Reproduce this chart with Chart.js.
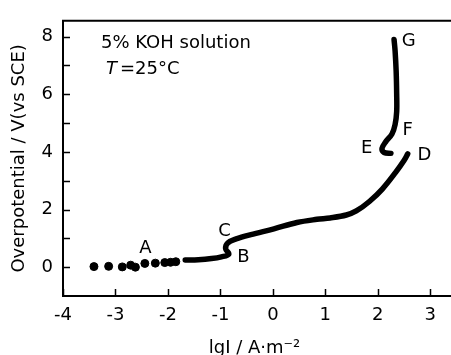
<!DOCTYPE html>
<html>
<head>
<meta charset="utf-8">
<script src="https://cdn.jsdelivr.net/npm/chart.js@4.4.1/dist/chart.umd.min.js"></script>
<style>
  html, body { margin: 0; padding: 0; background: #fff; }
  #wrap { width: 451px; height: 355px; }
</style>
</head>
<body>
<div id="wrap"><canvas id="c" width="451" height="355"></canvas></div>
<script>
// --- data ---
// scattered points at low current (lg i, overpotential)
const dotX = [-3.41, -3.13, -2.87, -2.71, -2.62, -2.44, -2.24, -2.06, -1.95, -1.85];
const dotY = [0.02, 0.03, 0.01, 0.07, 0.00, 0.13, 0.14, 0.16, 0.17, 0.19];

// continuous trace from the end of the dots through B, C to D
const traceX = [-1.67, -1.42, -1.17, -0.98, -0.84, -0.90, -0.86, -0.70, -0.42, 0.02, 0.46, 0.84, 1.09, 1.40, 1.59, 1.84, 2.09, 2.34, 2.50, 2.57];
const traceY = [0.25, 0.26, 0.30, 0.36, 0.45, 0.64, 0.84, 0.98, 1.13, 1.33, 1.55, 1.66, 1.71, 1.81, 1.95, 2.28, 2.72, 3.29, 3.70, 3.93];

// second trace E -> F -> G
const upperX = [2.25, 2.12, 2.08, 2.15, 2.27, 2.33, 2.36, 2.36, 2.35, 2.33, 2.31];
const upperY = [3.95, 3.98, 4.12, 4.35, 4.62, 4.95, 5.40, 6.00, 6.80, 7.50, 7.90];

const xTicks = [-4, -3, -2, -1, 0, 1, 2, 3];
const yTicks = [0, 1, 2, 3, 4, 5, 6, 7, 8];
const yLabels = [0, 2, 4, 6, 8];

// point letters, placed in data units
const notes = [
  { t: 'A', x: -2.43, y: 0.64 },
  { t: 'B', x: -0.56, y: 0.34 },
  { t: 'C', x: -0.92, y: 1.26 },
  { t: 'D', x: 2.89, y: 3.88 },
  { t: 'E', x: 1.79, y: 4.13 },
  { t: 'F', x: 2.57, y: 4.75 },
  { t: 'G', x: 2.59, y: 7.83 }
];

const FONT = '"DejaVu Sans", sans-serif';
const toPts = (xs, ys) => xs.map((x, i) => ({ x, y: ys[i] }));

// frame (top, left, bottom) plus inward tick marks
const framePlugin = {
  id: 'frame',
  afterDraw(chart) {
    const { ctx, chartArea: a, scales } = chart;
    ctx.save();
    ctx.strokeStyle = '#000';
    ctx.lineWidth = 2;
    ctx.beginPath();
    ctx.moveTo(chart.width, a.top);
    ctx.lineTo(a.left, a.top);
    ctx.lineTo(a.left, a.bottom);
    ctx.lineTo(chart.width, a.bottom);
    ctx.stroke();

    ctx.lineWidth = 1.5;
    ctx.beginPath();
    xTicks.forEach(v => {
      const px = Math.round(scales.x.getPixelForValue(v)) + 0.5;
      ctx.moveTo(px, a.bottom);
      ctx.lineTo(px, a.bottom - 7);
    });
    yTicks.forEach(v => {
      const py = Math.round(scales.y.getPixelForValue(v)) + 0.5;
      ctx.moveTo(a.left, py);
      ctx.lineTo(a.left + 7, py);
    });
    ctx.stroke();
    ctx.restore();
  }
};

// letters and the legend text inside the plot
const notesPlugin = {
  id: 'notes',
  afterDraw(chart) {
    const { ctx, scales } = chart;
    ctx.save();
    ctx.fillStyle = '#000';
    ctx.textAlign = 'center';
    ctx.textBaseline = 'middle';
    ctx.font = '18px ' + FONT;
    notes.forEach(n => {
      ctx.fillText(n.t, scales.x.getPixelForValue(n.x), scales.y.getPixelForValue(n.y));
    });

    ctx.textAlign = 'left';
    ctx.fillText('5% KOH solution', 101, 43);
    ctx.font = 'italic 18px ' + FONT;
    ctx.fillText('T', 106, 69);
    const w = ctx.measureText('T').width;
    ctx.font = '18px ' + FONT;
    ctx.fillText('=25°C', 106 + w + 3, 69);
    ctx.restore();
  }
};

new Chart(document.getElementById('c'), {
  type: 'scatter',
  data: {
    datasets: [
      {
        data: toPts(dotX, dotY),
        backgroundColor: '#000',
        borderColor: '#000',
        pointRadius: 4,
        showLine: false
      },
      {
        data: toPts(traceX, traceY),
        borderColor: '#000',
        borderWidth: 5.5,
        pointRadius: 0,
        showLine: true,
        tension: 0.35,
        borderCapStyle: 'round',
        borderJoinStyle: 'round'
      },
      {
        data: toPts(upperX, upperY),
        borderColor: '#000',
        borderWidth: 5.5,
        pointRadius: 0,
        showLine: true,
        tension: 0.35,
        borderCapStyle: 'round',
        borderJoinStyle: 'round'
      }
    ]
  },
  options: {
    responsive: false,
    animation: false,
    layout: { padding: { top: 16, right: 0, left: 0, bottom: 0 } },
    plugins: { legend: { display: false }, tooltip: { enabled: false } },
    scales: {
      x: {
        type: 'linear',
        min: -4,
        max: 3.3,
        afterFit: s => { s.height = 59; },
        grid: { display: false, drawTicks: false },
        border: { display: false },
        ticks: {
          stepSize: 1,
          includeBounds: false,
          padding: 9,
          color: '#000',
          font: { family: FONT, size: 18 },
          maxRotation: 0
        },
        title: {
          display: true,
          text: 'lgI / A·m⁻²',
          color: '#000',
          font: { family: FONT, size: 18, lineHeight: 1 },
          padding: { top: 0, bottom: -2 }
        }
      },
      y: {
        type: 'linear',
        min: -1,
        max: 8.55,
        afterFit: s => { s.width = 63; },
        grid: { display: false, drawTicks: false },
        border: { display: false },
        ticks: {
          stepSize: 1,
          includeBounds: false,
          padding: 10,
          color: '#000',
          font: { family: FONT, size: 18 },
          callback: v => (yLabels.includes(v) ? String(v) : '')
        },
        title: {
          display: true,
          text: 'Overpotential / V(vs SCE)',
          color: '#000',
          font: { family: FONT, size: 18, lineHeight: 1 },
          padding: { top: 10, bottom: 0 }
        }
      }
    }
  },
  plugins: [framePlugin, notesPlugin]
});
</script>
</body>
</html>
